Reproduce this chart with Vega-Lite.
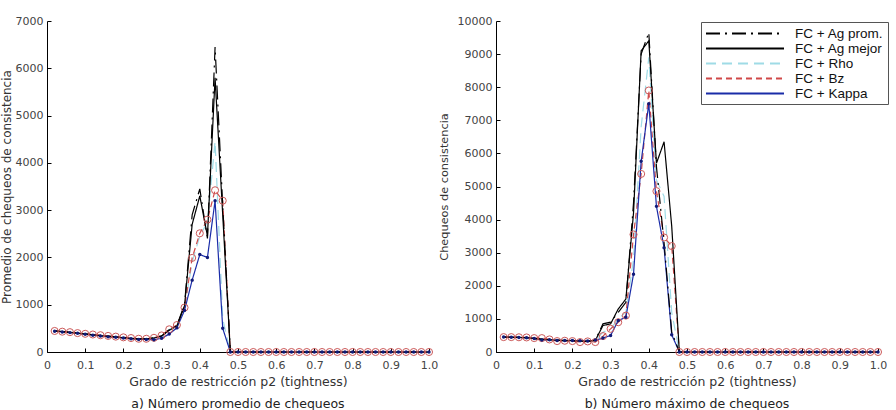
{
 "$schema": "https://vega.github.io/schema/vega-lite/v6.json",
 "padding": {"left": 0, "top": 15, "right": 0, "bottom": 0},
 "background": "white",
 "config": {
  "view": {"stroke": null},
  "font": "DejaVu Sans",
  "concat": {"spacing": 0},
  "axis": {"domainColor": "#000", "domainWidth": 1, "tickColor": "#000", "tickSize": -4, "labelPadding": 8, "labelColor": "#444", "labelFontSize": 11, "labelFont": "DejaVu Sans", "titleFont": "DejaVu Sans", "titleFontSize": 11, "titleFontWeight": "normal", "titleColor": "#333", "grid": false, "labelFlush": false, "labelOverlap": false},
  "title": {"font": "DejaVu Sans", "fontSize": 12.5, "fontWeight": "normal", "color": "#222"}
 },
 "datasets": {
  "a": [
   {"s":"FC + Rho","x":0.02,"y":448},{"s":"FC + Rho","x":0.04,"y":432},{"s":"FC + Rho","x":0.06,"y":420},{"s":"FC + Rho","x":0.08,"y":402},{"s":"FC + Rho","x":0.1,"y":385},{"s":"FC + Rho","x":0.12,"y":368},{"s":"FC + Rho","x":0.14,"y":352},{"s":"FC + Rho","x":0.16,"y":338},{"s":"FC + Rho","x":0.18,"y":322},{"s":"FC + Rho","x":0.2,"y":308},{"s":"FC + Rho","x":0.22,"y":292},{"s":"FC + Rho","x":0.24,"y":280},{"s":"FC + Rho","x":0.26,"y":282},{"s":"FC + Rho","x":0.28,"y":300},{"s":"FC + Rho","x":0.3,"y":345},{"s":"FC + Rho","x":0.32,"y":475},{"s":"FC + Rho","x":0.34,"y":565},{"s":"FC + Rho","x":0.36,"y":930},{"s":"FC + Rho","x":0.38,"y":1900},{"s":"FC + Rho","x":0.4,"y":2450},{"s":"FC + Rho","x":0.42,"y":2750},{"s":"FC + Rho","x":0.44,"y":4450},{"s":"FC + Rho","x":0.46,"y":700},{"s":"FC + Rho","x":0.48,"y":0},{"s":"FC + Rho","x":0.5,"y":0},{"s":"FC + Rho","x":0.52,"y":0},{"s":"FC + Rho","x":0.54,"y":0},{"s":"FC + Rho","x":0.56,"y":0},{"s":"FC + Rho","x":0.58,"y":0},{"s":"FC + Rho","x":0.6,"y":0},{"s":"FC + Rho","x":0.62,"y":0},{"s":"FC + Rho","x":0.64,"y":0},{"s":"FC + Rho","x":0.66,"y":0},{"s":"FC + Rho","x":0.68,"y":0},{"s":"FC + Rho","x":0.7,"y":0},{"s":"FC + Rho","x":0.72,"y":0},{"s":"FC + Rho","x":0.74,"y":0},{"s":"FC + Rho","x":0.76,"y":0},{"s":"FC + Rho","x":0.78,"y":0},{"s":"FC + Rho","x":0.8,"y":0},{"s":"FC + Rho","x":0.82,"y":0},{"s":"FC + Rho","x":0.84,"y":0},{"s":"FC + Rho","x":0.86,"y":0},{"s":"FC + Rho","x":0.88,"y":0},{"s":"FC + Rho","x":0.9,"y":0},{"s":"FC + Rho","x":0.92,"y":0},{"s":"FC + Rho","x":0.94,"y":0},{"s":"FC + Rho","x":0.96,"y":0},{"s":"FC + Rho","x":0.98,"y":0},{"s":"FC + Rho","x":1.0,"y":0},
   {"s":"FC + Bz","x":0.02,"y":445},{"s":"FC + Bz","x":0.04,"y":430},{"s":"FC + Bz","x":0.06,"y":420},{"s":"FC + Bz","x":0.08,"y":400},{"s":"FC + Bz","x":0.1,"y":385},{"s":"FC + Bz","x":0.12,"y":370},{"s":"FC + Bz","x":0.14,"y":355},{"s":"FC + Bz","x":0.16,"y":340},{"s":"FC + Bz","x":0.18,"y":325},{"s":"FC + Bz","x":0.2,"y":310},{"s":"FC + Bz","x":0.22,"y":295},{"s":"FC + Bz","x":0.24,"y":280},{"s":"FC + Bz","x":0.26,"y":280},{"s":"FC + Bz","x":0.28,"y":300},{"s":"FC + Bz","x":0.3,"y":350},{"s":"FC + Bz","x":0.32,"y":480},{"s":"FC + Bz","x":0.34,"y":570},{"s":"FC + Bz","x":0.36,"y":940},{"s":"FC + Bz","x":0.38,"y":1990},{"s":"FC + Bz","x":0.4,"y":2510},{"s":"FC + Bz","x":0.42,"y":2800},{"s":"FC + Bz","x":0.44,"y":3420},{"s":"FC + Bz","x":0.46,"y":3200},{"s":"FC + Bz","x":0.48,"y":0},{"s":"FC + Bz","x":0.5,"y":0},{"s":"FC + Bz","x":0.52,"y":0},{"s":"FC + Bz","x":0.54,"y":0},{"s":"FC + Bz","x":0.56,"y":0},{"s":"FC + Bz","x":0.58,"y":0},{"s":"FC + Bz","x":0.6,"y":0},{"s":"FC + Bz","x":0.62,"y":0},{"s":"FC + Bz","x":0.64,"y":0},{"s":"FC + Bz","x":0.66,"y":0},{"s":"FC + Bz","x":0.68,"y":0},{"s":"FC + Bz","x":0.7,"y":0},{"s":"FC + Bz","x":0.72,"y":0},{"s":"FC + Bz","x":0.74,"y":0},{"s":"FC + Bz","x":0.76,"y":0},{"s":"FC + Bz","x":0.78,"y":0},{"s":"FC + Bz","x":0.8,"y":0},{"s":"FC + Bz","x":0.82,"y":0},{"s":"FC + Bz","x":0.84,"y":0},{"s":"FC + Bz","x":0.86,"y":0},{"s":"FC + Bz","x":0.88,"y":0},{"s":"FC + Bz","x":0.9,"y":0},{"s":"FC + Bz","x":0.92,"y":0},{"s":"FC + Bz","x":0.94,"y":0},{"s":"FC + Bz","x":0.96,"y":0},{"s":"FC + Bz","x":0.98,"y":0},{"s":"FC + Bz","x":1.0,"y":0},
   {"s":"FC + Kappa","x":0.02,"y":440},{"s":"FC + Kappa","x":0.04,"y":425},{"s":"FC + Kappa","x":0.06,"y":410},{"s":"FC + Kappa","x":0.08,"y":395},{"s":"FC + Kappa","x":0.1,"y":375},{"s":"FC + Kappa","x":0.12,"y":355},{"s":"FC + Kappa","x":0.14,"y":340},{"s":"FC + Kappa","x":0.16,"y":320},{"s":"FC + Kappa","x":0.18,"y":310},{"s":"FC + Kappa","x":0.2,"y":295},{"s":"FC + Kappa","x":0.22,"y":280},{"s":"FC + Kappa","x":0.24,"y":265},{"s":"FC + Kappa","x":0.26,"y":265},{"s":"FC + Kappa","x":0.28,"y":260},{"s":"FC + Kappa","x":0.3,"y":290},{"s":"FC + Kappa","x":0.32,"y":380},{"s":"FC + Kappa","x":0.34,"y":510},{"s":"FC + Kappa","x":0.36,"y":880},{"s":"FC + Kappa","x":0.38,"y":1520},{"s":"FC + Kappa","x":0.4,"y":2060},{"s":"FC + Kappa","x":0.42,"y":2000},{"s":"FC + Kappa","x":0.44,"y":3200},{"s":"FC + Kappa","x":0.46,"y":500},{"s":"FC + Kappa","x":0.48,"y":0},{"s":"FC + Kappa","x":0.5,"y":0},{"s":"FC + Kappa","x":0.52,"y":0},{"s":"FC + Kappa","x":0.54,"y":0},{"s":"FC + Kappa","x":0.56,"y":0},{"s":"FC + Kappa","x":0.58,"y":0},{"s":"FC + Kappa","x":0.6,"y":0},{"s":"FC + Kappa","x":0.62,"y":0},{"s":"FC + Kappa","x":0.64,"y":0},{"s":"FC + Kappa","x":0.66,"y":0},{"s":"FC + Kappa","x":0.68,"y":0},{"s":"FC + Kappa","x":0.7,"y":0},{"s":"FC + Kappa","x":0.72,"y":0},{"s":"FC + Kappa","x":0.74,"y":0},{"s":"FC + Kappa","x":0.76,"y":0},{"s":"FC + Kappa","x":0.78,"y":0},{"s":"FC + Kappa","x":0.8,"y":0},{"s":"FC + Kappa","x":0.82,"y":0},{"s":"FC + Kappa","x":0.84,"y":0},{"s":"FC + Kappa","x":0.86,"y":0},{"s":"FC + Kappa","x":0.88,"y":0},{"s":"FC + Kappa","x":0.9,"y":0},{"s":"FC + Kappa","x":0.92,"y":0},{"s":"FC + Kappa","x":0.94,"y":0},{"s":"FC + Kappa","x":0.96,"y":0},{"s":"FC + Kappa","x":0.98,"y":0},{"s":"FC + Kappa","x":1.0,"y":0},
   {"s":"FC + Ag mejor","x":0.02,"y":445},{"s":"FC + Ag mejor","x":0.04,"y":430},{"s":"FC + Ag mejor","x":0.06,"y":415},{"s":"FC + Ag mejor","x":0.08,"y":398},{"s":"FC + Ag mejor","x":0.1,"y":380},{"s":"FC + Ag mejor","x":0.12,"y":362},{"s":"FC + Ag mejor","x":0.14,"y":345},{"s":"FC + Ag mejor","x":0.16,"y":330},{"s":"FC + Ag mejor","x":0.18,"y":315},{"s":"FC + Ag mejor","x":0.2,"y":300},{"s":"FC + Ag mejor","x":0.22,"y":288},{"s":"FC + Ag mejor","x":0.24,"y":275},{"s":"FC + Ag mejor","x":0.26,"y":278},{"s":"FC + Ag mejor","x":0.28,"y":295},{"s":"FC + Ag mejor","x":0.3,"y":335},{"s":"FC + Ag mejor","x":0.32,"y":460},{"s":"FC + Ag mejor","x":0.34,"y":550},{"s":"FC + Ag mejor","x":0.36,"y":980},{"s":"FC + Ag mejor","x":0.38,"y":2700},{"s":"FC + Ag mejor","x":0.4,"y":3300},{"s":"FC + Ag mejor","x":0.42,"y":2450},{"s":"FC + Ag mejor","x":0.44,"y":5800},{"s":"FC + Ag mejor","x":0.46,"y":2900},{"s":"FC + Ag mejor","x":0.48,"y":0},{"s":"FC + Ag mejor","x":0.5,"y":0},{"s":"FC + Ag mejor","x":0.52,"y":0},{"s":"FC + Ag mejor","x":0.54,"y":0},{"s":"FC + Ag mejor","x":0.56,"y":0},{"s":"FC + Ag mejor","x":0.58,"y":0},{"s":"FC + Ag mejor","x":0.6,"y":0},{"s":"FC + Ag mejor","x":0.62,"y":0},{"s":"FC + Ag mejor","x":0.64,"y":0},{"s":"FC + Ag mejor","x":0.66,"y":0},{"s":"FC + Ag mejor","x":0.68,"y":0},{"s":"FC + Ag mejor","x":0.7,"y":0},{"s":"FC + Ag mejor","x":0.72,"y":0},{"s":"FC + Ag mejor","x":0.74,"y":0},{"s":"FC + Ag mejor","x":0.76,"y":0},{"s":"FC + Ag mejor","x":0.78,"y":0},{"s":"FC + Ag mejor","x":0.8,"y":0},{"s":"FC + Ag mejor","x":0.82,"y":0},{"s":"FC + Ag mejor","x":0.84,"y":0},{"s":"FC + Ag mejor","x":0.86,"y":0},{"s":"FC + Ag mejor","x":0.88,"y":0},{"s":"FC + Ag mejor","x":0.9,"y":0},{"s":"FC + Ag mejor","x":0.92,"y":0},{"s":"FC + Ag mejor","x":0.94,"y":0},{"s":"FC + Ag mejor","x":0.96,"y":0},{"s":"FC + Ag mejor","x":0.98,"y":0},{"s":"FC + Ag mejor","x":1.0,"y":0},
   {"s":"FC + Ag prom.","x":0.02,"y":450},{"s":"FC + Ag prom.","x":0.04,"y":430},{"s":"FC + Ag prom.","x":0.06,"y":420},{"s":"FC + Ag prom.","x":0.08,"y":400},{"s":"FC + Ag prom.","x":0.1,"y":385},{"s":"FC + Ag prom.","x":0.12,"y":365},{"s":"FC + Ag prom.","x":0.14,"y":350},{"s":"FC + Ag prom.","x":0.16,"y":335},{"s":"FC + Ag prom.","x":0.18,"y":320},{"s":"FC + Ag prom.","x":0.2,"y":305},{"s":"FC + Ag prom.","x":0.22,"y":290},{"s":"FC + Ag prom.","x":0.24,"y":280},{"s":"FC + Ag prom.","x":0.26,"y":280},{"s":"FC + Ag prom.","x":0.28,"y":300},{"s":"FC + Ag prom.","x":0.3,"y":340},{"s":"FC + Ag prom.","x":0.32,"y":470},{"s":"FC + Ag prom.","x":0.34,"y":560},{"s":"FC + Ag prom.","x":0.36,"y":1000},{"s":"FC + Ag prom.","x":0.38,"y":2900},{"s":"FC + Ag prom.","x":0.4,"y":3450},{"s":"FC + Ag prom.","x":0.42,"y":2400},{"s":"FC + Ag prom.","x":0.44,"y":6450},{"s":"FC + Ag prom.","x":0.46,"y":3100},{"s":"FC + Ag prom.","x":0.48,"y":0},{"s":"FC + Ag prom.","x":0.5,"y":0},{"s":"FC + Ag prom.","x":0.52,"y":0},{"s":"FC + Ag prom.","x":0.54,"y":0},{"s":"FC + Ag prom.","x":0.56,"y":0},{"s":"FC + Ag prom.","x":0.58,"y":0},{"s":"FC + Ag prom.","x":0.6,"y":0},{"s":"FC + Ag prom.","x":0.62,"y":0},{"s":"FC + Ag prom.","x":0.64,"y":0},{"s":"FC + Ag prom.","x":0.66,"y":0},{"s":"FC + Ag prom.","x":0.68,"y":0},{"s":"FC + Ag prom.","x":0.7,"y":0},{"s":"FC + Ag prom.","x":0.72,"y":0},{"s":"FC + Ag prom.","x":0.74,"y":0},{"s":"FC + Ag prom.","x":0.76,"y":0},{"s":"FC + Ag prom.","x":0.78,"y":0},{"s":"FC + Ag prom.","x":0.8,"y":0},{"s":"FC + Ag prom.","x":0.82,"y":0},{"s":"FC + Ag prom.","x":0.84,"y":0},{"s":"FC + Ag prom.","x":0.86,"y":0},{"s":"FC + Ag prom.","x":0.88,"y":0},{"s":"FC + Ag prom.","x":0.9,"y":0},{"s":"FC + Ag prom.","x":0.92,"y":0},{"s":"FC + Ag prom.","x":0.94,"y":0},{"s":"FC + Ag prom.","x":0.96,"y":0},{"s":"FC + Ag prom.","x":0.98,"y":0},{"s":"FC + Ag prom.","x":1.0,"y":0}
  ],
  "b": [
   {"s":"FC + Rho","x":0.02,"y":450},{"s":"FC + Rho","x":0.04,"y":448},{"s":"FC + Rho","x":0.06,"y":440},{"s":"FC + Rho","x":0.08,"y":435},{"s":"FC + Rho","x":0.1,"y":415},{"s":"FC + Rho","x":0.12,"y":395},{"s":"FC + Rho","x":0.14,"y":375},{"s":"FC + Rho","x":0.16,"y":360},{"s":"FC + Rho","x":0.18,"y":350},{"s":"FC + Rho","x":0.2,"y":345},{"s":"FC + Rho","x":0.22,"y":335},{"s":"FC + Rho","x":0.24,"y":330},{"s":"FC + Rho","x":0.26,"y":340},{"s":"FC + Rho","x":0.28,"y":600},{"s":"FC + Rho","x":0.3,"y":700},{"s":"FC + Rho","x":0.32,"y":1000},{"s":"FC + Rho","x":0.34,"y":1200},{"s":"FC + Rho","x":0.36,"y":2800},{"s":"FC + Rho","x":0.38,"y":6800},{"s":"FC + Rho","x":0.4,"y":8900},{"s":"FC + Rho","x":0.42,"y":5200},{"s":"FC + Rho","x":0.44,"y":4700},{"s":"FC + Rho","x":0.46,"y":1200},{"s":"FC + Rho","x":0.48,"y":0},{"s":"FC + Rho","x":0.5,"y":0},{"s":"FC + Rho","x":0.52,"y":0},{"s":"FC + Rho","x":0.54,"y":0},{"s":"FC + Rho","x":0.56,"y":0},{"s":"FC + Rho","x":0.58,"y":0},{"s":"FC + Rho","x":0.6,"y":0},{"s":"FC + Rho","x":0.62,"y":0},{"s":"FC + Rho","x":0.64,"y":0},{"s":"FC + Rho","x":0.66,"y":0},{"s":"FC + Rho","x":0.68,"y":0},{"s":"FC + Rho","x":0.7,"y":0},{"s":"FC + Rho","x":0.72,"y":0},{"s":"FC + Rho","x":0.74,"y":0},{"s":"FC + Rho","x":0.76,"y":0},{"s":"FC + Rho","x":0.78,"y":0},{"s":"FC + Rho","x":0.8,"y":0},{"s":"FC + Rho","x":0.82,"y":0},{"s":"FC + Rho","x":0.84,"y":0},{"s":"FC + Rho","x":0.86,"y":0},{"s":"FC + Rho","x":0.88,"y":0},{"s":"FC + Rho","x":0.9,"y":0},{"s":"FC + Rho","x":0.92,"y":0},{"s":"FC + Rho","x":0.94,"y":0},{"s":"FC + Rho","x":0.96,"y":0},{"s":"FC + Rho","x":0.98,"y":0},{"s":"FC + Rho","x":1.0,"y":0},
   {"s":"FC + Bz","x":0.02,"y":450},{"s":"FC + Bz","x":0.04,"y":450},{"s":"FC + Bz","x":0.06,"y":445},{"s":"FC + Bz","x":0.08,"y":440},{"s":"FC + Bz","x":0.1,"y":420},{"s":"FC + Bz","x":0.12,"y":420},{"s":"FC + Bz","x":0.14,"y":380},{"s":"FC + Bz","x":0.16,"y":330},{"s":"FC + Bz","x":0.18,"y":340},{"s":"FC + Bz","x":0.2,"y":330},{"s":"FC + Bz","x":0.22,"y":300},{"s":"FC + Bz","x":0.24,"y":320},{"s":"FC + Bz","x":0.26,"y":300},{"s":"FC + Bz","x":0.28,"y":480},{"s":"FC + Bz","x":0.3,"y":700},{"s":"FC + Bz","x":0.32,"y":900},{"s":"FC + Bz","x":0.34,"y":1100},{"s":"FC + Bz","x":0.36,"y":3550},{"s":"FC + Bz","x":0.38,"y":5380},{"s":"FC + Bz","x":0.4,"y":7900},{"s":"FC + Bz","x":0.42,"y":4860},{"s":"FC + Bz","x":0.44,"y":3460},{"s":"FC + Bz","x":0.46,"y":3200},{"s":"FC + Bz","x":0.48,"y":0},{"s":"FC + Bz","x":0.5,"y":0},{"s":"FC + Bz","x":0.52,"y":0},{"s":"FC + Bz","x":0.54,"y":0},{"s":"FC + Bz","x":0.56,"y":0},{"s":"FC + Bz","x":0.58,"y":0},{"s":"FC + Bz","x":0.6,"y":0},{"s":"FC + Bz","x":0.62,"y":0},{"s":"FC + Bz","x":0.64,"y":0},{"s":"FC + Bz","x":0.66,"y":0},{"s":"FC + Bz","x":0.68,"y":0},{"s":"FC + Bz","x":0.7,"y":0},{"s":"FC + Bz","x":0.72,"y":0},{"s":"FC + Bz","x":0.74,"y":0},{"s":"FC + Bz","x":0.76,"y":0},{"s":"FC + Bz","x":0.78,"y":0},{"s":"FC + Bz","x":0.8,"y":0},{"s":"FC + Bz","x":0.82,"y":0},{"s":"FC + Bz","x":0.84,"y":0},{"s":"FC + Bz","x":0.86,"y":0},{"s":"FC + Bz","x":0.88,"y":0},{"s":"FC + Bz","x":0.9,"y":0},{"s":"FC + Bz","x":0.92,"y":0},{"s":"FC + Bz","x":0.94,"y":0},{"s":"FC + Bz","x":0.96,"y":0},{"s":"FC + Bz","x":0.98,"y":0},{"s":"FC + Bz","x":1.0,"y":0},
   {"s":"FC + Kappa","x":0.02,"y":450},{"s":"FC + Kappa","x":0.04,"y":445},{"s":"FC + Kappa","x":0.06,"y":440},{"s":"FC + Kappa","x":0.08,"y":430},{"s":"FC + Kappa","x":0.1,"y":405},{"s":"FC + Kappa","x":0.12,"y":360},{"s":"FC + Kappa","x":0.14,"y":370},{"s":"FC + Kappa","x":0.16,"y":350},{"s":"FC + Kappa","x":0.18,"y":345},{"s":"FC + Kappa","x":0.2,"y":350},{"s":"FC + Kappa","x":0.22,"y":340},{"s":"FC + Kappa","x":0.24,"y":330},{"s":"FC + Kappa","x":0.26,"y":360},{"s":"FC + Kappa","x":0.28,"y":420},{"s":"FC + Kappa","x":0.3,"y":500},{"s":"FC + Kappa","x":0.32,"y":950},{"s":"FC + Kappa","x":0.34,"y":1050},{"s":"FC + Kappa","x":0.36,"y":2350},{"s":"FC + Kappa","x":0.38,"y":5760},{"s":"FC + Kappa","x":0.4,"y":7500},{"s":"FC + Kappa","x":0.42,"y":4400},{"s":"FC + Kappa","x":0.44,"y":3150},{"s":"FC + Kappa","x":0.46,"y":520},{"s":"FC + Kappa","x":0.48,"y":0},{"s":"FC + Kappa","x":0.5,"y":0},{"s":"FC + Kappa","x":0.52,"y":0},{"s":"FC + Kappa","x":0.54,"y":0},{"s":"FC + Kappa","x":0.56,"y":0},{"s":"FC + Kappa","x":0.58,"y":0},{"s":"FC + Kappa","x":0.6,"y":0},{"s":"FC + Kappa","x":0.62,"y":0},{"s":"FC + Kappa","x":0.64,"y":0},{"s":"FC + Kappa","x":0.66,"y":0},{"s":"FC + Kappa","x":0.68,"y":0},{"s":"FC + Kappa","x":0.7,"y":0},{"s":"FC + Kappa","x":0.72,"y":0},{"s":"FC + Kappa","x":0.74,"y":0},{"s":"FC + Kappa","x":0.76,"y":0},{"s":"FC + Kappa","x":0.78,"y":0},{"s":"FC + Kappa","x":0.8,"y":0},{"s":"FC + Kappa","x":0.82,"y":0},{"s":"FC + Kappa","x":0.84,"y":0},{"s":"FC + Kappa","x":0.86,"y":0},{"s":"FC + Kappa","x":0.88,"y":0},{"s":"FC + Kappa","x":0.9,"y":0},{"s":"FC + Kappa","x":0.92,"y":0},{"s":"FC + Kappa","x":0.94,"y":0},{"s":"FC + Kappa","x":0.96,"y":0},{"s":"FC + Kappa","x":0.98,"y":0},{"s":"FC + Kappa","x":1.0,"y":0},
   {"s":"FC + Ag mejor","x":0.02,"y":450},{"s":"FC + Ag mejor","x":0.04,"y":445},{"s":"FC + Ag mejor","x":0.06,"y":440},{"s":"FC + Ag mejor","x":0.08,"y":430},{"s":"FC + Ag mejor","x":0.1,"y":410},{"s":"FC + Ag mejor","x":0.12,"y":380},{"s":"FC + Ag mejor","x":0.14,"y":370},{"s":"FC + Ag mejor","x":0.16,"y":350},{"s":"FC + Ag mejor","x":0.18,"y":345},{"s":"FC + Ag mejor","x":0.2,"y":340},{"s":"FC + Ag mejor","x":0.22,"y":330},{"s":"FC + Ag mejor","x":0.24,"y":320},{"s":"FC + Ag mejor","x":0.26,"y":350},{"s":"FC + Ag mejor","x":0.28,"y":800},{"s":"FC + Ag mejor","x":0.3,"y":850},{"s":"FC + Ag mejor","x":0.32,"y":1300},{"s":"FC + Ag mejor","x":0.34,"y":1600},{"s":"FC + Ag mejor","x":0.36,"y":4200},{"s":"FC + Ag mejor","x":0.38,"y":9100},{"s":"FC + Ag mejor","x":0.4,"y":9400},{"s":"FC + Ag mejor","x":0.42,"y":5700},{"s":"FC + Ag mejor","x":0.44,"y":6350},{"s":"FC + Ag mejor","x":0.46,"y":3800},{"s":"FC + Ag mejor","x":0.48,"y":0},{"s":"FC + Ag mejor","x":0.5,"y":0},{"s":"FC + Ag mejor","x":0.52,"y":0},{"s":"FC + Ag mejor","x":0.54,"y":0},{"s":"FC + Ag mejor","x":0.56,"y":0},{"s":"FC + Ag mejor","x":0.58,"y":0},{"s":"FC + Ag mejor","x":0.6,"y":0},{"s":"FC + Ag mejor","x":0.62,"y":0},{"s":"FC + Ag mejor","x":0.64,"y":0},{"s":"FC + Ag mejor","x":0.66,"y":0},{"s":"FC + Ag mejor","x":0.68,"y":0},{"s":"FC + Ag mejor","x":0.7,"y":0},{"s":"FC + Ag mejor","x":0.72,"y":0},{"s":"FC + Ag mejor","x":0.74,"y":0},{"s":"FC + Ag mejor","x":0.76,"y":0},{"s":"FC + Ag mejor","x":0.78,"y":0},{"s":"FC + Ag mejor","x":0.8,"y":0},{"s":"FC + Ag mejor","x":0.82,"y":0},{"s":"FC + Ag mejor","x":0.84,"y":0},{"s":"FC + Ag mejor","x":0.86,"y":0},{"s":"FC + Ag mejor","x":0.88,"y":0},{"s":"FC + Ag mejor","x":0.9,"y":0},{"s":"FC + Ag mejor","x":0.92,"y":0},{"s":"FC + Ag mejor","x":0.94,"y":0},{"s":"FC + Ag mejor","x":0.96,"y":0},{"s":"FC + Ag mejor","x":0.98,"y":0},{"s":"FC + Ag mejor","x":1.0,"y":0},
   {"s":"FC + Ag prom.","x":0.02,"y":450},{"s":"FC + Ag prom.","x":0.04,"y":445},{"s":"FC + Ag prom.","x":0.06,"y":440},{"s":"FC + Ag prom.","x":0.08,"y":430},{"s":"FC + Ag prom.","x":0.1,"y":410},{"s":"FC + Ag prom.","x":0.12,"y":390},{"s":"FC + Ag prom.","x":0.14,"y":370},{"s":"FC + Ag prom.","x":0.16,"y":360},{"s":"FC + Ag prom.","x":0.18,"y":350},{"s":"FC + Ag prom.","x":0.2,"y":340},{"s":"FC + Ag prom.","x":0.22,"y":330},{"s":"FC + Ag prom.","x":0.24,"y":320},{"s":"FC + Ag prom.","x":0.26,"y":360},{"s":"FC + Ag prom.","x":0.28,"y":850},{"s":"FC + Ag prom.","x":0.3,"y":900},{"s":"FC + Ag prom.","x":0.32,"y":1200},{"s":"FC + Ag prom.","x":0.34,"y":1500},{"s":"FC + Ag prom.","x":0.36,"y":4500},{"s":"FC + Ag prom.","x":0.38,"y":9000},{"s":"FC + Ag prom.","x":0.4,"y":9650},{"s":"FC + Ag prom.","x":0.42,"y":5600},{"s":"FC + Ag prom.","x":0.44,"y":3300},{"s":"FC + Ag prom.","x":0.46,"y":600},{"s":"FC + Ag prom.","x":0.48,"y":0},{"s":"FC + Ag prom.","x":0.5,"y":0},{"s":"FC + Ag prom.","x":0.52,"y":0},{"s":"FC + Ag prom.","x":0.54,"y":0},{"s":"FC + Ag prom.","x":0.56,"y":0},{"s":"FC + Ag prom.","x":0.58,"y":0},{"s":"FC + Ag prom.","x":0.6,"y":0},{"s":"FC + Ag prom.","x":0.62,"y":0},{"s":"FC + Ag prom.","x":0.64,"y":0},{"s":"FC + Ag prom.","x":0.66,"y":0},{"s":"FC + Ag prom.","x":0.68,"y":0},{"s":"FC + Ag prom.","x":0.7,"y":0},{"s":"FC + Ag prom.","x":0.72,"y":0},{"s":"FC + Ag prom.","x":0.74,"y":0},{"s":"FC + Ag prom.","x":0.76,"y":0},{"s":"FC + Ag prom.","x":0.78,"y":0},{"s":"FC + Ag prom.","x":0.8,"y":0},{"s":"FC + Ag prom.","x":0.82,"y":0},{"s":"FC + Ag prom.","x":0.84,"y":0},{"s":"FC + Ag prom.","x":0.86,"y":0},{"s":"FC + Ag prom.","x":0.88,"y":0},{"s":"FC + Ag prom.","x":0.9,"y":0},{"s":"FC + Ag prom.","x":0.92,"y":0},{"s":"FC + Ag prom.","x":0.94,"y":0},{"s":"FC + Ag prom.","x":0.96,"y":0},{"s":"FC + Ag prom.","x":0.98,"y":0},{"s":"FC + Ag prom.","x":1.0,"y":0}
  ]
 },
 "hconcat": [
  {
   "width": 382, "height": 331,
   "data": {"name": "a"},
   "title": {"text": "a) Número promedio de chequeos", "orient": "bottom", "offset": 10},
   "encoding": {
    "x": {"field": "x", "type": "quantitative", "scale": {"domain": [0, 1], "nice": false}, "axis": {"title": "Grado de restricción p2 (tightness)", "titleFontSize": 12.5, "values": [0, 0.1, 0.2, 0.3, 0.4, 0.5, 0.6, 0.7, 0.8, 0.9, 1], "labelExpr": "datum.value == 0 ? '0' : format(datum.value, '.1f')", "labelPadding": 11, "titlePadding": 5}},
    "y": {"field": "y", "type": "quantitative", "scale": {"domain": [0, 7000], "nice": false}, "axis": {"title": "Promedio de chequeos de consistencia", "titleFontSize": 12, "format": "d", "values": [0, 1000, 2000, 3000, 4000, 5000, 6000, 7000], "titlePadding": 2}}
   },
   "layer": [
    {"mark": {"type": "line", "strokeWidth": 1.2},
     "encoding": {
      "color": {"field": "s", "type": "nominal", "scale": {"domain": ["FC + Ag prom.", "FC + Ag mejor", "FC + Rho", "FC + Bz", "FC + Kappa"], "range": ["#000000", "#000000", "#9fdbe6", "#d04848", "#1a2ca8"]}, "legend": null},
      "strokeDash": {"field": "s", "type": "nominal", "scale": {"domain": ["FC + Ag prom.", "FC + Ag mejor", "FC + Rho", "FC + Bz", "FC + Kappa"], "range": [[14, 5, 2, 5], [1, 0], [10, 6], [6, 4], [1, 0]]}, "legend": null}
     }},
    {"transform": [{"filter": "datum.s == 'FC + Bz'"}], "mark": {"type": "point", "shape": "circle", "filled": false, "size": 50, "stroke": "#cc5a5a", "strokeWidth": 1, "opacity": 1}},
    {"transform": [{"filter": "datum.s == 'FC + Kappa'"}], "mark": {"type": "point", "shape": "circle", "filled": true, "size": 12, "color": "#101a78", "opacity": 1}}
   ]
  },
  {
   "width": 382, "height": 331,
   "data": {"name": "b"},
   "title": {"text": "b) Número máximo de chequeos", "orient": "bottom", "offset": 10},
   "encoding": {
    "x": {"field": "x", "type": "quantitative", "scale": {"domain": [0, 1], "nice": false}, "axis": {"title": "Grado de restricción p2 (tightness)", "titleFontSize": 12.5, "values": [0, 0.1, 0.2, 0.3, 0.4, 0.5, 0.6, 0.7, 0.8, 0.9, 1], "labelExpr": "datum.value == 0 ? '0' : format(datum.value, '.1f')", "labelPadding": 11, "titlePadding": 5}},
    "y": {"field": "y", "type": "quantitative", "scale": {"domain": [0, 10000], "nice": false}, "axis": {"title": "Chequeos de consistencia", "titleFontSize": 11.3, "format": "d", "values": [0, 1000, 2000, 3000, 4000, 5000, 6000, 7000, 8000, 9000, 10000], "titlePadding": 8}}
   },
   "layer": [
    {"mark": {"type": "line", "strokeWidth": 1.2},
     "encoding": {
      "color": {"field": "s", "type": "nominal", "scale": {"domain": ["FC + Ag prom.", "FC + Ag mejor", "FC + Rho", "FC + Bz", "FC + Kappa"], "range": ["#000000", "#000000", "#9fdbe6", "#d04848", "#1a2ca8"]},
        "legend": {"orient": "none", "legendX": 205, "legendY": 1, "title": null, "symbolType": "M-1,0H11", "symbolSize": 169, "symbolStrokeWidth": 2, "labelFont": "Liberation Sans", "labelFontSize": 13.5, "labelColor": "#111", "strokeColor": "#555", "fillColor": "#ffffff", "padding": 4, "rowPadding": 1, "labelOffset": 75}},
      "strokeDash": {"field": "s", "type": "nominal", "scale": {"domain": ["FC + Ag prom.", "FC + Ag mejor", "FC + Rho", "FC + Bz", "FC + Kappa"], "range": [[14, 5, 2, 5], [1, 0], [10, 6], [6, 4], [1, 0]]},
        "legend": {"orient": "none", "legendX": 205, "legendY": 1, "title": null, "symbolType": "M-1,0H11", "symbolSize": 169, "symbolStrokeWidth": 2, "labelFont": "Liberation Sans", "labelFontSize": 13.5, "labelColor": "#111", "strokeColor": "#555", "fillColor": "#ffffff", "padding": 4, "rowPadding": 1, "labelOffset": 75}}
     }},
    {"transform": [{"filter": "datum.s == 'FC + Bz'"}], "mark": {"type": "point", "shape": "circle", "filled": false, "size": 50, "stroke": "#cc5a5a", "strokeWidth": 1, "opacity": 1}},
    {"transform": [{"filter": "datum.s == 'FC + Kappa'"}], "mark": {"type": "point", "shape": "circle", "filled": true, "size": 12, "color": "#101a78", "opacity": 1}}
   ]
  }
 ],
 "resolve": {"scale": {"y": "independent", "color": "independent", "strokeDash": "independent"}}
}
